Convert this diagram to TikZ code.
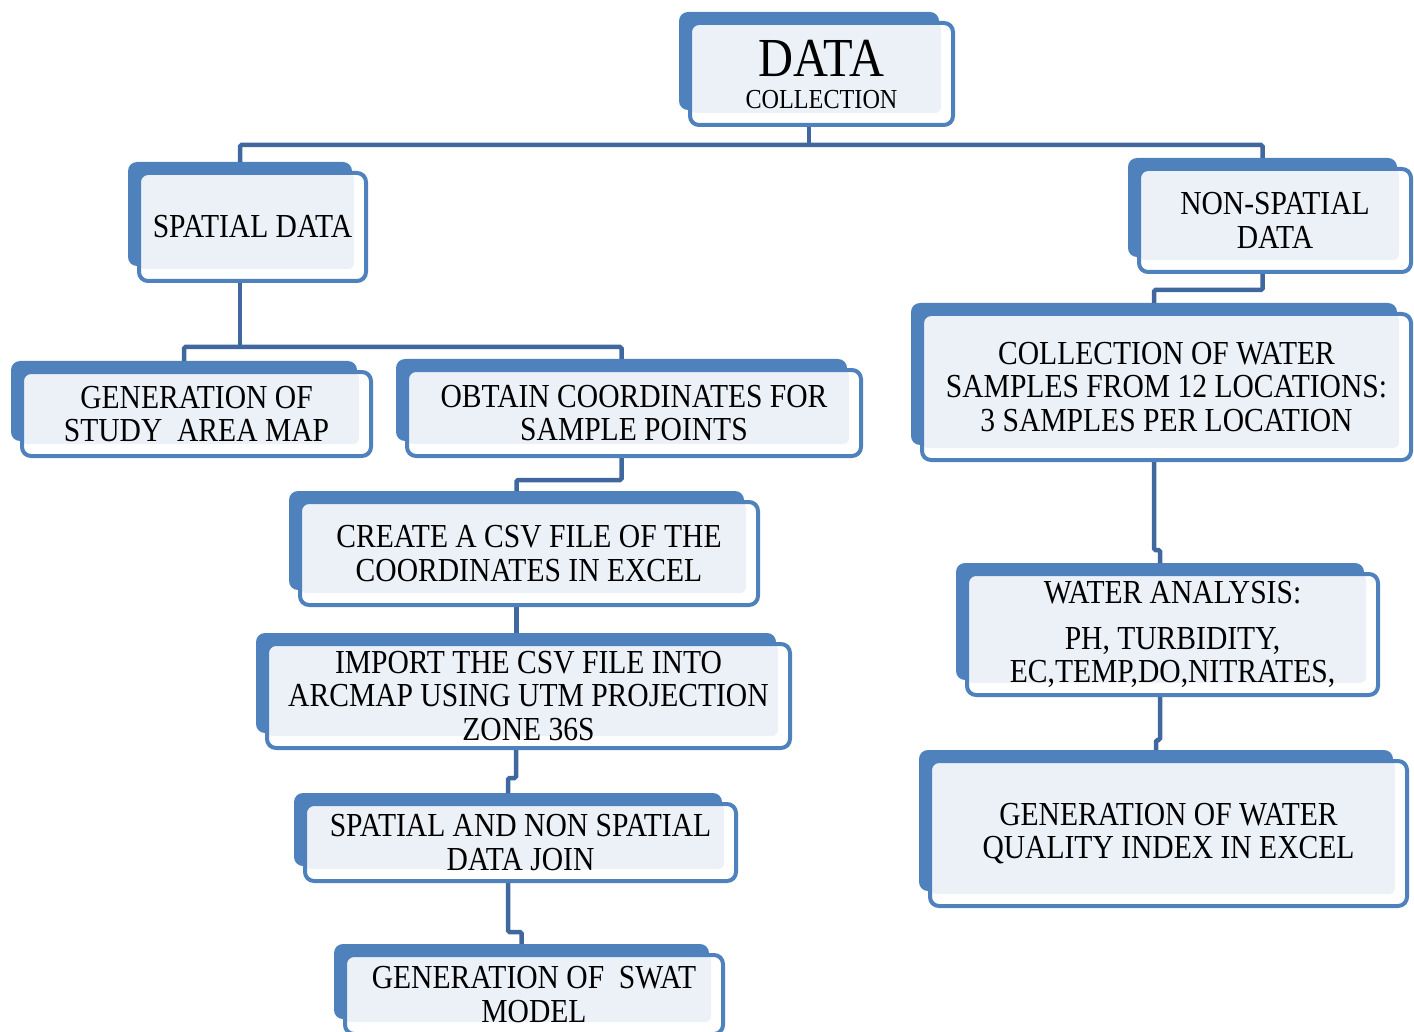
\documentclass[tikz,border=0pt]{standalone}
\usepackage{fontspec}
\setmainfont{Liberation Serif}[FakeStretch=0.88]
\usetikzlibrary{backgrounds,fit}

\definecolor{boxblue}{RGB}{79,129,189}
\definecolor{linkblue}{RGB}{64,104,158}
\definecolor{boxfill}{RGB}{236,241,248}

\begin{document}
\begin{tikzpicture}[x=1pt,y=-1pt,
    procbox/.style={draw=boxblue, line width=4pt, rounded corners=9pt, fill=white,
      inner sep=0pt, align=center, font=\fontsize{33.6}{33.5}\selectfont,
      path picture={\fill[boxfill, rounded corners=6pt] (path picture bounding box.north west)
        rectangle ([shift={(-12pt,12pt)}]path picture bounding box.south east);}},
    plate/.style={fill=boxblue, rounded corners=9pt, inner sep=0pt, outer sep=0pt},
    link/.style={draw=linkblue, line width=4.5pt, rounded corners=1.5pt}]
    \useasboundingbox (0,0) rectangle (1414,1032);

    % Top
    \node[procbox, minimum width=263pt, minimum height=102pt, font=\fontsize{27.5}{32}\selectfont]
        (datacol) at (821.5,74) {{\fontsize{55}{55}\selectfont DATA}\\COLLECTION};
    \node[procbox, minimum width=227pt, minimum height=108pt] (spatial) at (252.5,227) {SPATIAL DATA};
    \node[procbox, minimum width=272pt, minimum height=103pt] (nonsp) at (1275,220.5) {NON-SPATIAL\\DATA};

    % Spatial branch
    \node[procbox, minimum width=349pt, minimum height=84pt] (studymap) at (196.5,414) {GENERATION OF\\STUDY\ \ AREA MAP};
    \node[procbox, minimum width=454pt, minimum height=86pt] (coords) at (634,413) {OBTAIN COORDINATES FOR\\SAMPLE POINTS};
    \node[procbox, minimum width=458pt, minimum height=103pt] (csvfile) at (529,553.5) {CREATE A CSV FILE OF THE\\COORDINATES IN EXCEL};
    \node[procbox, minimum width=523pt, minimum height=104pt] (import) at (528.5,696) {IMPORT THE CSV FILE INTO\\ARCMAP USING UTM PROJECTION\\ZONE 36S};
    \node[procbox, minimum width=431pt, minimum height=77pt] (join) at (520.5,842.5) {SPATIAL AND NON SPATIAL\\DATA JOIN};
    \node[procbox, minimum width=378pt, minimum height=79pt] (swat) at (534,994.5) {GENERATION OF\ \ SWAT\\MODEL};

    % Non-spatial branch
    \node[procbox, minimum width=489pt, minimum height=146pt] (samples) at (1166.5,387) {COLLECTION OF WATER\\SAMPLES FROM 12 LOCATIONS:\\3 SAMPLES PER LOCATION};
    \node[procbox, minimum width=411pt, minimum height=121pt] (analysis) at (1172.5,634.5) {WATER ANALYSIS:\\[12pt]PH, TURBIDITY,\\EC,TEMP,DO,NITRATES,};
    \node[procbox, minimum width=477pt, minimum height=145pt] (wqi) at (1168.5,833.5) {GENERATION OF WATER\\QUALITY INDEX IN EXCEL};

    \begin{scope}[on background layer]
        % Back plates
        \foreach \n in {datacol,spatial,nonsp,studymap,coords,csvfile,import,join,swat,samples,analysis,wqi} {
            \coordinate (\n-nw) at ([shift={(-9pt,9pt)}]\n.north west);
            \coordinate (\n-se) at ([shift={(-16pt,17pt)}]\n.south east);
            \node[plate, fit=(\n-nw)(\n-se)] (\n-b) {};
        }

        % Links
        \draw[link] (datacol-b.south) -- (datacol-b.south |- 0,145);
        \draw[link] (spatial-b.north) |- (datacol-b.south |- 0,145) -| (nonsp-b.north);
        \draw[link] (spatial-b.south) -- (spatial-b.south |- 0,347);
        \draw[link] (studymap-b.north) |- (spatial-b.south |- 0,347) -| (coords-b.north);
        \draw[link] (csvfile-b.south) -- (csvfile-b.south |- import-b.north);
        \foreach \a/\b/\y in {coords/csvfile/480, import/join/778, join/swat/932,
                              nonsp/samples/290, samples/analysis/550, analysis/wqi/740}
            \draw[link] (\a-b.south) -- (\a-b.south |- 0,\y) -| (\b-b.north);
    \end{scope}
\end{tikzpicture}
\end{document}
